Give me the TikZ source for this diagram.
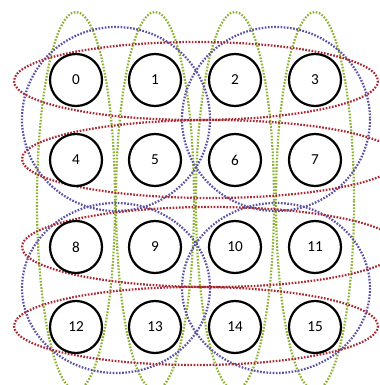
\documentclass[tikz,border=0pt]{standalone}
\usepackage{fontspec}
\setmainfont{Carlito}
\usetikzlibrary{positioning}
\definecolor{colgreen}{RGB}{140,176,50}
\definecolor{rowred}{RGB}{170,40,50}
\definecolor{blockpurple}{RGB}{90,80,165}

\begin{document}
\begin{tikzpicture}[
  x=0.03cm, y=-0.03cm,
  font=\fontsize{13}{15}\selectfont,
  cell/.style={circle, draw=black, fill=white, line width=1.9pt,
               minimum size=1.56cm, inner sep=0pt},
  group/.style={line width=1.9pt, dash pattern=on 1.4pt off 1.3pt},
  colgroup/.style={group, draw=colgreen},
  rowgroup/.style={group, draw=rowred},
  blockgroup/.style={group, draw=blockpurple}
]
\useasboundingbox (0,0) rectangle (379,385);

% Spalten
\draw[colgroup] (76,201)  ellipse [x radius=39, y radius=189];
\draw[colgroup] (155,201) ellipse [x radius=39, y radius=189];
\draw[colgroup] (235,201) ellipse [x radius=39, y radius=189];
\draw[colgroup] (315,201) ellipse [x radius=39, y radius=189];

% 2x2-Bloecke
\draw[blockgroup] (116,119) ellipse [x radius=94, y radius=92];
\draw[blockgroup] (276,119) ellipse [x radius=94, y radius=92];
\draw[blockgroup] (116,288) ellipse [x radius=94, y radius=85];
\draw[blockgroup] (276,288) ellipse [x radius=94, y radius=85];

% Zeilen
\draw[rowgroup] (196,81)  ellipse [x radius=182, y radius=39];
\draw[rowgroup] (211,159) ellipse [x radius=189, y radius=39];
\draw[rowgroup] (211,247) ellipse [x radius=189, y radius=40];
\draw[rowgroup] (196,326) ellipse [x radius=182, y radius=39];

% Knoten
\node[cell] (c0)  at (76,80)   {0};
\node[cell] (c1)  at (155,80)  {1};
\node[cell] (c2)  at (235,80)  {2};
\node[cell] (c3)  at (315,80)  {3};
\node[cell] (c4)  at (76,160)  {4};
\node[cell] (c5)  at (155,160) {5};
\node[cell] (c6)  at (235,160) {6};
\node[cell] (c7)  at (315,160) {7};
\node[cell] (c8)  at (76,247)  {8};
\node[cell] (c9)  at (155,247) {9};
\node[cell] (c10) at (235,247) {10};
\node[cell] (c11) at (315,247) {11};
\node[cell] (c12) at (76,327)  {12};
\node[cell] (c13) at (155,327) {13};
\node[cell] (c14) at (235,327) {14};
\node[cell] (c15) at (315,327) {15};

\end{tikzpicture}
\end{document}
